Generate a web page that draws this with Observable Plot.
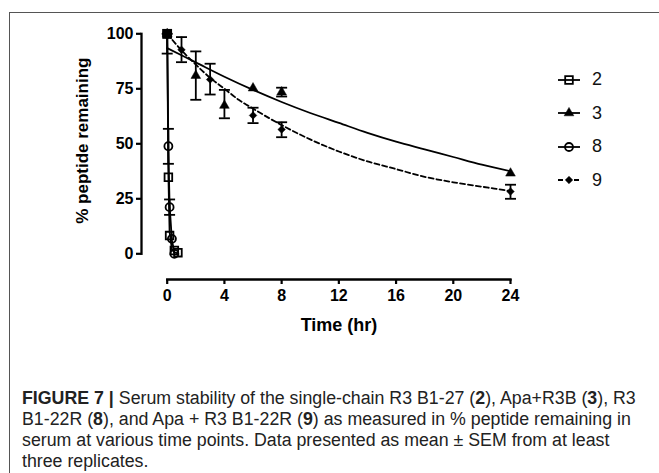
<!DOCTYPE html>
<html><head><meta charset="utf-8">
<script src="https://cdn.jsdelivr.net/npm/d3@7"></script>
<script src="https://cdn.jsdelivr.net/npm/@observablehq/plot@0.6"></script>
<style>
html,body{margin:0;padding:0;background:#fff;}
#wrap{position:relative;width:659px;height:473px;overflow:hidden;font-family:"Liberation Sans",Arial,sans-serif;}
#box{position:absolute;left:9px;top:12px;width:800px;height:800px;border:1.5px solid #555;box-sizing:border-box;}
#chart{position:absolute;left:0;top:0;}
#legend{position:absolute;left:555px;top:63px;}
.lg{display:flex;align-items:center;height:33.5px;}
.lg span{font-size:18px;margin-left:9px;color:#111;}
#caption{position:absolute;left:22px;top:388px;font-size:15px;line-height:21px;color:#222;white-space:nowrap;}
#caption div{height:21px;}
</style></head>
<body><div id="wrap"><div id="box"></div><div id="chart"></div><div id="legend"></div><div id="caption"></div></div>
<script>
// ---- data ----
const seriesNames = ["2", "3", "8", "9"];
// compound 2 (open squares)
const t2 = [0, 0.083, 0.167, 0.5, 0.75];
const y2 = [100, 34.8, 8.3, 1.5, 0.5];
// compound 3 (filled triangles)
const t3 = [0, 2, 4, 6, 8, 24];
const y3 = [100, 81, 67.4, 75.3, 73.5, 36.6];
const lo3 = [null, 70, 61.6, null, 71.5, null];
const hi3 = [null, 92, 74.5, null, 75.5, null];
// compound 8 (open circles)
const t8 = [0, 0.083, 0.167, 0.33, 0.5];
const y8 = [100, 48.9, 21.2, 6.8, 0];
const lo8 = [91, 40.9, 17.7, null, null];
const hi8 = [100, 56.8, 24.7, null, null];
// compound 9 (filled diamonds)
const t9 = [0, 1, 3, 6, 8, 24];
const y9 = [100, 92.7, 79.2, 62.9, 56.5, 28.3];
const lo9 = [null, 87.1, 72.4, 59.4, 53, 25];
const hi9 = [null, 98.5, 86.4, 66.4, 59.8, 31.4];
// fitted curves, points
const fitT2 = [0, 0.083, 0.167, 0.33, 0.5, 0.75];
const fitY2 = [100, 36, 10, 2, 0.6, 0.2];
const fitT8 = [0, 0.083, 0.167, 0.33, 0.5];
const fitY8 = [100, 47, 22, 6, 1];
const fitT3 = [0, 2, 4, 6, 8, 10, 12, 14, 16, 18, 20, 22, 24];
const fitY3 = [93.5, 87, 80.5, 74.5, 69, 64, 59.5, 55, 51, 47.5, 44, 40.5, 37.5];
const fitT9 = [0, 1, 2, 3, 4, 5, 6, 8, 10, 12, 14, 16, 18, 20, 22, 24];
const fitY9 = [100, 92.5, 86, 80, 75, 70, 66, 58.5, 52, 46.5, 42, 38.5, 35, 32.5, 30.5, 28.5];
const xTicks = [0, 4, 8, 12, 16, 20, 24];
const yTicks = [0, 25, 50, 75, 100];

// ---- build tables ----
const pts = (t, y, lo, hi) => t.map((d, i) => ({t: d, y: y[i], lo: lo ? lo[i] : null, hi: hi ? hi[i] : null}));
const P2 = pts(t2, y2), P3 = pts(t3, y3, lo3, hi3), P8 = pts(t8, y8, lo8, hi8), P9 = pts(t9, y9, lo9, hi9);
const curve = (t, y) => t.map((d, i) => ({t: d, y: y[i]}));
const errs = [...P3, ...P8, ...P9].filter(d => d.lo != null);
const caps = errs.flatMap(d => [{t: d.t, y: d.lo}, {t: d.t, y: d.hi}]);
const capSymbol = {draw(ctx) { ctx.moveTo(-5.5, 0); ctx.lineTo(5.5, 0); }};

const SW = 1.8;
const plot = Plot.plot({
  width: 659, height: 340,
  marginLeft: 141, marginRight: 149, marginTop: 33.3, marginBottom: 61,
  style: {fontFamily: "'Liberation Sans', Arial, sans-serif", color: "#000", background: "transparent"},
  x: {domain: [0, 24], insetLeft: 25.7},
  y: {domain: [0, 100], insetBottom: 25.7},
  marks: [
    Plot.frame({anchor: "left", insetBottom: 25.7, strokeWidth: 2.3}),
    Plot.frame({anchor: "bottom", insetLeft: 25.7, strokeWidth: 2.3}),
    Plot.axisY({ticks: yTicks, tickSize: 5, tickPadding: 3, label: null, fontSize: 16, fontWeight: "bold", strokeWidth: 2.2}),
    Plot.axisX({ticks: xTicks, tickSize: 5, tickPadding: 5, label: null, fontSize: 16, fontWeight: "bold", strokeWidth: 2.2}),
    Plot.text(["% peptide remaining"], {frameAnchor: "left", textAnchor: "middle", lineAnchor: "middle", rotate: -90, dx: -59, dy: -16, fontSize: 17, fontWeight: "bold"}),
    Plot.text(["Time (hr)"], {frameAnchor: "bottom", textAnchor: "middle", lineAnchor: "middle", dx: 13, dy: 46, fontSize: 18, fontWeight: "bold"}),
    Plot.line(curve(fitT2, fitY2), {x: "t", y: "y", stroke: "#000", strokeWidth: SW}),
    Plot.line(curve(fitT8, fitY8), {x: "t", y: "y", stroke: "#000", strokeWidth: SW}),
    Plot.line(curve(fitT3, fitY3), {x: "t", y: "y", stroke: "#000", strokeWidth: SW, curve: "monotone-x"}),
    Plot.line(curve(fitT9, fitY9), {x: "t", y: "y", stroke: "#000", strokeWidth: SW, strokeDasharray: "5,3", curve: "monotone-x"}),
    Plot.ruleX(errs, {x: "t", y1: "lo", y2: "hi", stroke: "#000", strokeWidth: SW}),
    Plot.dot(caps, {x: "t", y: "y", symbol: capSymbol, stroke: "#000", strokeWidth: SW, fill: "none", r: 5}),
    Plot.dot(P2, {x: "t", y: "y", symbol: "square", r: 4.3, fill: "none", stroke: "#000", strokeWidth: SW}),
    Plot.dot(P8, {x: "t", y: "y", symbol: "circle", r: 4, fill: "none", stroke: "#000", strokeWidth: SW}),
    Plot.dot(P3, {x: "t", y: "y", symbol: "triangle", r: 3.6, fill: "#000", stroke: "#000", strokeWidth: 0.5}),
    Plot.dot(P9, {x: "t", y: "y", symbol: "diamond2", r: 3.4, fill: "#000", stroke: "#000", strokeWidth: 0.5}),
    Plot.dot([P2[0]], {x: "t", y: "y", symbol: "square", r: 5.5, fill: "#000"})
  ]
});
document.getElementById("chart").appendChild(plot);

// ---- legend ----
const legendSymbols = {"2": ["square", 4.3, "none"], "3": ["triangle", 3.6, "#000"], "8": ["circle", 4, "none"], "9": ["diamond2", 3.4, "#000"]};
const d3sym = {square: d3.symbolSquare, triangle: d3.symbolTriangle, circle: d3.symbolCircle, diamond2: d3.symbolDiamond2};
const legend = d3.select("#legend");
for (const s of seriesNames) {
  const [sym, r, fill] = legendSymbols[s];
  const row = legend.append("div").attr("class", "lg");
  const svg = row.append("svg").attr("width", 28).attr("height", 14);
  svg.append("line").attr("x1", 3).attr("x2", s === "9" ? 27 : 25).attr("y1", 7).attr("y2", 7)
    .attr("stroke", "#000").attr("stroke-width", SW).attr("stroke-dasharray", s === "9" ? "5,3" : null);
  svg.append("path").attr("d", d3.symbol(d3sym[sym], Math.PI * r * r)()).attr("transform", "translate(14,7)")
    .attr("fill", fill).attr("stroke", "#000").attr("stroke-width", fill === "none" ? SW : 0.5);
  row.append("span").text(s);
}

// ---- caption ----
const captionLines = [
  "<b>FIGURE 7 |</b> Serum stability of the single-chain R3 B1-27 (<b>2</b>), Apa+R3B (<b>3</b>), R3",
  "B1-22R (<b>8</b>), and Apa + R3 B1-22R (<b>9</b>) as measured in % peptide remaining in",
  "serum at various time points. Data presented as mean ± SEM from at least",
  "three replicates."
];
const cap = document.getElementById("caption");
cap.innerHTML = captionLines.map(l => `<div><span>${l}</span></div>`).join("");
const w = cap.querySelector("span").getBoundingClientRect().width;
cap.style.fontSize = (15 * 614 / w).toFixed(2) + "px";
</script></body></html>
